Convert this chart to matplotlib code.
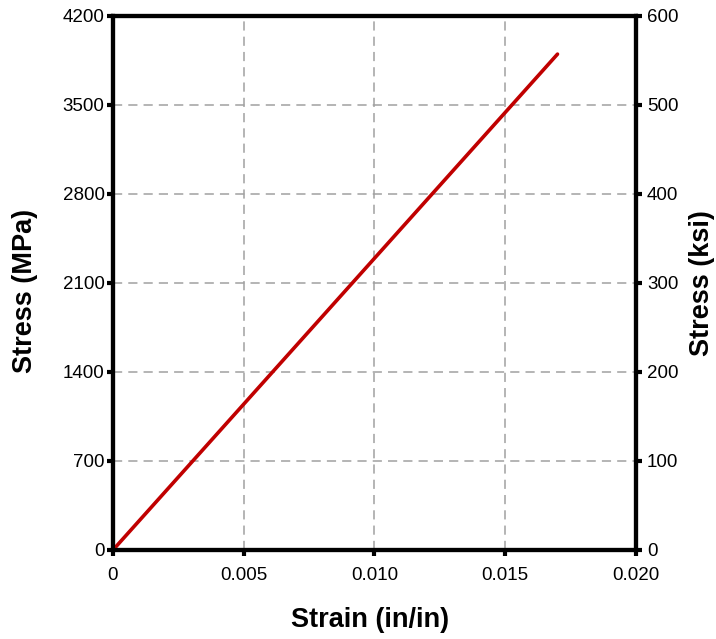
import matplotlib
matplotlib.use("Agg")
import matplotlib.pyplot as plt

plt.rcParams['font.family'] = ['Liberation Sans', 'DejaVu Sans']

strain = [0.0, 0.017]
stress_mpa = [0.0, 3900.0]

x_ticks = [0, 0.005, 0.010, 0.015, 0.020]
x_tick_labels = ['0', '0.005', '0.010', '0.015', '0.020']
y_ticks = [0, 700, 1400, 2100, 2800, 3500, 4200]
y2_ticks = [0, 100, 200, 300, 400, 500, 600]

fig = plt.figure(figsize=(7.16, 6.39), dpi=100)
ax = fig.add_axes([0.1578, 0.1393, 0.7304, 0.8357])

ax.plot(strain, stress_mpa, color='#C00000', lw=2.6, solid_capstyle='round', zorder=3)

ax.set_xlim(0, 0.020)
ax.set_ylim(0, 4200)
ax.set_xticks(x_ticks)
ax.set_xticklabels(x_tick_labels)
ax.set_yticks(y_ticks)
ax.grid(True, color='#a0a0a0', linestyle=(0, (6, 4)), lw=1.1)

for s in ax.spines.values():
    s.set_linewidth(3)
    s.set_color('black')

ax.tick_params(axis='both', direction='out', length=4, width=3, labelsize=13.5, pad=2, colors='black')
ax.tick_params(axis='x', pad=8)

ax2 = ax.twinx()
ax2.set_ylim(0, 600)
ax2.set_yticks(y2_ticks)
ax2.tick_params(axis='y', direction='out', length=4, width=3, labelsize=13.5, pad=4)
for s in ax2.spines.values():
    s.set_linewidth(3)

fig.text(370 / 716, 1 - 620 / 639, 'Strain (in/in)', fontsize=19.5, fontweight='bold',
         ha='center', va='center')
fig.text(25 / 716, 1 - 291 / 639, 'Stress (MPa)', fontsize=19.5, fontweight='bold',
         ha='center', va='center', rotation=90)
fig.text(702 / 716, 1 - 283 / 639, 'Stress (ksi)', fontsize=19.5, fontweight='bold',
         ha='center', va='center', rotation=90)

fig.savefig('out.png', dpi=100)
